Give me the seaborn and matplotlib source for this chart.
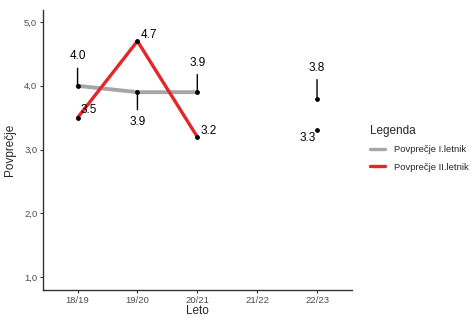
import matplotlib
matplotlib.use("Agg")
import matplotlib.pyplot as plt
from matplotlib.lines import Line2D
import numpy as np
import pandas as pd
import seaborn as sns

## ===================== data =====================

years = ["18/19", "19/20", "20/21", "21/22", "22/23"]
letnik1 = [4.0, 3.9, 3.9, np.nan, 3.8]
letnik2 = [3.5, 4.7, 3.2, np.nan, 3.3]
series = ["Povprečje I.letnik", "Povprečje II.letnik"]
colors = ["#a6a6a6", "#e3262a"]

# label placement per point (offset in points, alignment, draw segment)
place1 = [((0, 17), "bottom", True), ((0, -17), "top", True), ((0, 17), "bottom", True),
          None, ((0, 18), "bottom", True)]
place2 = [((2, 1), "left", False), ((2, 0), "left", False), ((2, 0), "left", False),
          None, ((-1, -1), "right", False)]

## ===================== frame =====================

x = np.arange(len(years))
df = pd.DataFrame({
    "x": np.concatenate([x, x]),
    "Povprečje": letnik1 + letnik2,
    "Legenda": [series[0]] * len(years) + [series[1]] * len(years),
})

sns.set_style("ticks")
plt.rcParams["font.family"] = ["Liberation Sans", "DejaVu Sans"]

fig = plt.figure(figsize=(4.76, 3.18), dpi=100)
ax = fig.add_axes([0.090, 0.088, 0.649, 0.881])

# lines only through the consecutive years (gap at 21/22 breaks them)
lines = df[df["x"] <= 2]
sns.lineplot(data=lines, x="x", y="Povprečje", hue="Legenda", palette=colors,
             ax=ax, linewidth=2.4, legend=False, sort=True)
ax.lines[0].set_linewidth(2.8)

pts = df.dropna()
ax.scatter(pts["x"], pts["Povprečje"], s=12, color="black", zorder=5, linewidths=0)

for vals, places in ((letnik1, place1), (letnik2, place2)):
    for xi, v, pl in zip(x, vals, places):
        if pl is None or np.isnan(v):
            continue
        off, how, seg = pl
        if how in ("bottom", "top"):
            ha, va = "center", how
        else:
            ha = how
            va = "bottom" if off[1] >= 0 else "top"
        kw = {}
        if seg:
            kw["arrowprops"] = dict(arrowstyle="-", color="black", lw=1.0,
                                    shrinkA=-2, shrinkB=0)
        ax.annotate(f"{v:.1f}", (xi, v), xytext=off, textcoords="offset points",
                    ha=ha, va=va, fontsize=8.5, color="black", zorder=6, **kw)

ax.set_xlim(-0.58, 4.58)
ax.set_ylim(0.8, 5.19)
ax.set_xticks(x)
ax.set_xticklabels(years)
ax.set_yticks([1, 2, 3, 4, 5])
ax.set_yticklabels(["1,0", "2,0", "3,0", "4,0", "5,0"])
ax.tick_params(labelsize=6.8, labelcolor="#4d4d4d", color="#333333", length=2.5,
               width=0.8, pad=1.5)
ax.set_xlabel("Leto", fontsize=8.5, labelpad=0)
ax.set_ylabel("Povprečje", fontsize=8.5, labelpad=6)
for s in ("left", "bottom"):
    ax.spines[s].set_color("#333333")
    ax.spines[s].set_linewidth(1.0)
sns.despine(ax=ax)

handles = [Line2D([], [], color=c, lw=2.4) for c in colors]
fig.legend(handles, series, title="Legenda", loc="upper left",
           bbox_to_anchor=(0.76, 0.635), frameon=False, fontsize=6.8,
           title_fontsize=8.5, handlelength=1.6, handletextpad=0.9,
           labelspacing=0.9, alignment="left")

fig.savefig("out.png", dpi=100)
